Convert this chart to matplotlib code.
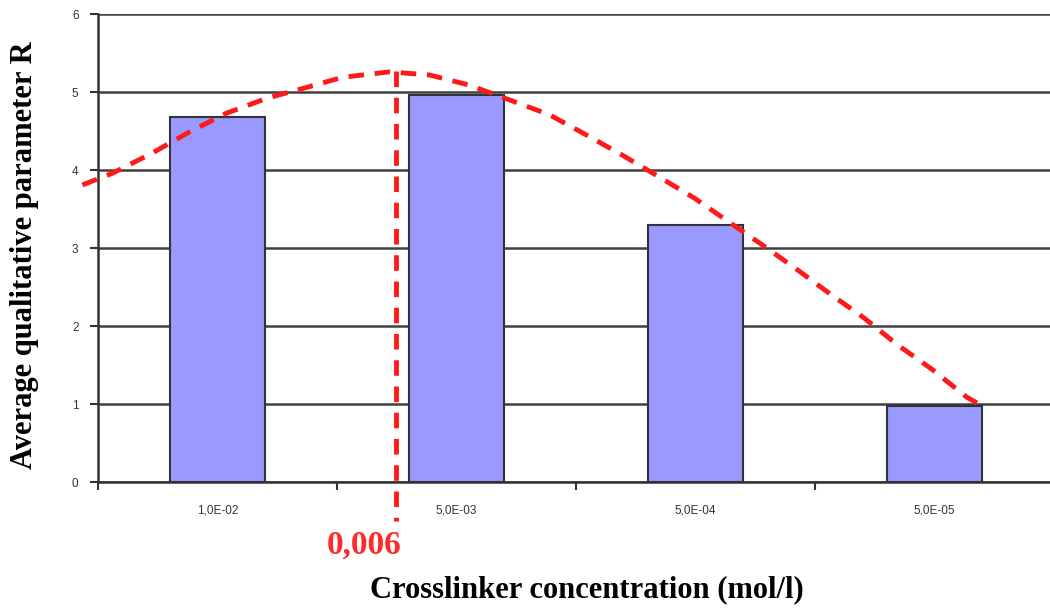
import matplotlib.pyplot as plt
import numpy as np

categories = ["1,0E-02", "5,0E-03", "5,0E-04", "5,0E-05"]
r_values = [4.68, 4.96, 3.29, 0.97]

# dashed trend curve (x in category units)
trend_x = [-0.565, -0.439, -0.272, -0.117, 0.038, 0.205, 0.372, 0.523, 0.720, 0.887,
           1.054, 1.222, 1.389, 1.544, 1.695, 1.849, 1.996, 2.142, 2.280, 2.427,
           2.569, 2.707, 2.845, 2.992, 3.134, 3.180]
trend_y = [3.81, 3.96, 4.22, 4.49, 4.73, 4.92, 5.06, 5.19, 5.26, 5.22,
           5.09, 4.90, 4.71, 4.45, 4.19, 3.91, 3.64, 3.33, 3.04, 2.72,
           2.40, 2.10, 1.76, 1.44, 1.09, 1.01]

optimum_x = 0.749
optimum_label = "0,006"

fig = plt.figure(figsize=(10.5, 6.1), dpi=100)
ax = fig.add_axes([0.0933, 0.2098, 0.9105, 0.767])

x = np.arange(len(categories))
ax.bar(x, r_values, width=0.4, color="#9999ff", edgecolor="#333333", linewidth=1.5, zorder=3)

ax.set_xlim(-0.5, 3.5)
ax.set_ylim(0, 6)
ax.set_yticks(range(7))
ax.yaxis.grid(True, color="#404040", linewidth=1.8, zorder=0)
ax.set_axisbelow(True)

for s in ["top", "right"]:
    ax.spines[s].set_visible(False)
ax.spines["left"].set_color("#333333")
ax.spines["bottom"].set_color("#333333")
ax.spines["left"].set_linewidth(1.8)
ax.spines["bottom"].set_linewidth(1.8)

ax.set_xticks(x)
ax.set_xticklabels(categories, fontsize=8.5, color="#333333", family="Liberation Sans")
ax.tick_params(axis="x", which="major", length=0, pad=16)
ax.set_xticks([-0.5, 0.5, 1.5, 2.5], minor=True)
ax.tick_params(axis="x", which="minor", length=6, width=1.5, color="#333333", direction="out")
ax.tick_params(axis="y", length=6, width=1.5, color="#333333", labelsize=8.5, labelcolor="#333333", pad=8)
for t in ax.get_yticklabels():
    t.set_family("Liberation Sans")

ax.plot(trend_x, trend_y, color="#ff1a1a", linestyle=(0, (3.2, 2.2)), linewidth=3.5, zorder=4, clip_on=False)
ax.plot([optimum_x, optimum_x], [5.27, -0.5], color="#ff1a1a", linestyle=(0, (3.2, 2.2)),
        linewidth=3.5, zorder=4, clip_on=False)
ax.text(optimum_x + 0.02, -0.81, optimum_label, color="#ff2a2a", fontsize=24, fontweight="bold",
        family="Liberation Serif", ha="right", va="center", transform=ax.transData)

ax.set_xlabel("Crosslinker concentration (mol/l)", fontsize=22, fontweight="bold", family="Liberation Serif")
ax.xaxis.set_label_coords(0.5115, -0.2)
ax.set_ylabel("Average qualitative parameter R", fontsize=22, fontweight="bold", family="Liberation Serif")
ax.yaxis.set_label_coords(-0.062, 0.485)

fig.savefig("out.png", dpi=100)
